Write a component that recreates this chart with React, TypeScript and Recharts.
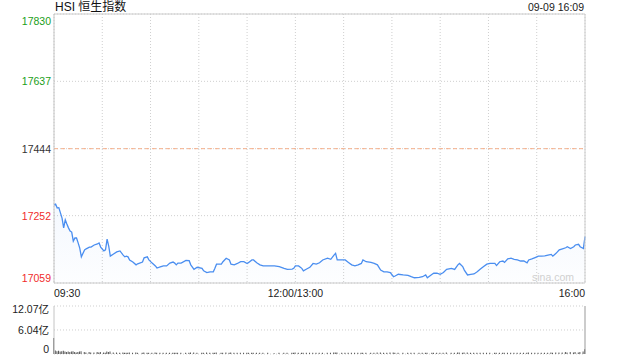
import React from "react";
import {
  ComposedChart,
  Area,
  Bar,
  XAxis,
  YAxis,
  CartesianGrid,
  ReferenceLine,
} from "recharts";

// minutes since 09:30 (lunch break removed: 150 = 12:00/13:00, 330 = 16:00)
const minutes = [
  0, 1, 2, 3, 4, 5, 6, 7, 8, 9, 10, 11, 12, 13, 14, 15, 16, 17,
  19, 20, 22, 23, 25, 27, 28, 29,
  31, 32, 33, 34, 35, 37, 39, 41,
  43, 44, 45, 46, 47, 49, 51, 52,
  55, 56, 58, 59, 61, 63, 64, 66,
  68, 70, 72, 74, 75, 76, 77, 79,
  82, 84, 85, 87, 89, 92, 93, 95,
  97, 99, 100, 101, 104, 105, 107, 109,
  110, 112, 114, 116, 118, 120, 121, 123,
  124, 126, 128, 130, 133, 137, 140, 143,
  145, 148, 149, 150, 152, 154, 155, 157,
  159, 161, 163, 165, 167, 170, 172, 174,
  175, 176, 179, 181, 183, 185, 187, 189,
  191, 192, 194, 197, 199, 201, 203, 205,
  207, 209, 211, 212, 214, 217, 220, 222,
  224, 227, 229, 231, 232, 235, 236, 238,
  240, 242, 244, 247, 249, 251, 252, 254,
  255, 257, 259, 261, 263, 265, 267, 269,
  271, 274, 275, 277, 279, 280, 282, 284,
  286, 288, 290, 292, 294, 295, 297, 299,
  301, 303, 305, 307, 309, 310, 312, 314,
  316, 318, 319, 321, 323, 324, 326, 327,
  329, 330,
];

const prices = [
  17283, 17285, 17274, 17275, 17260, 17245, 17217, 17240, 17228, 17217, 17208, 17205, 17179, 17188, 17188, 17174, 17159, 17134,
  17154, 17157, 17162, 17162, 17168, 17171, 17174, 17162,
  17151, 17154, 17185, 17165, 17136, 17142, 17148, 17151,
  17139, 17134, 17136, 17134, 17125, 17119, 17111, 17114,
  17119, 17131, 17134, 17125, 17116, 17108, 17102, 17105,
  17108, 17108, 17116, 17119, 17116, 17111, 17116, 17116,
  17124, 17123, 17111, 17098, 17104, 17101, 17094, 17089,
  17091, 17091, 17101, 17113, 17113, 17120, 17130, 17125,
  17113, 17111, 17115, 17120, 17120, 17115, 17118, 17125,
  17125, 17117, 17111, 17108, 17108, 17108, 17106, 17101,
  17098, 17099, 17101, 17108, 17108, 17101, 17094, 17099,
  17104, 17115, 17113, 17117, 17125, 17130, 17127, 17139,
  17144, 17125, 17125, 17125, 17118, 17111, 17108, 17111,
  17115, 17125, 17120, 17118, 17115, 17111, 17096, 17091,
  17091, 17089, 17077, 17079, 17084, 17082, 17081, 17077,
  17074, 17075, 17077, 17082, 17074, 17084, 17087, 17087,
  17084, 17089, 17098, 17101, 17098, 17111, 17115, 17106,
  17096, 17082, 17084, 17085, 17091, 17099, 17106, 17113,
  17115, 17115, 17109, 17120, 17122, 17118, 17128, 17130,
  17127, 17125, 17122, 17122, 17117, 17125, 17128, 17132,
  17136, 17136, 17137, 17139, 17141, 17136, 17144, 17154,
  17157, 17160, 17163, 17158, 17163, 17168, 17170, 17163,
  17158, 17192,
];

// turnover, 亿
const volumes = [
  4.0, 0.9, 0.7, 0.8, 0.6, 0.7, 0.8, 0.6, 0.5, 0.6, 0.5, 0.6, 0.7, 0.5, 0.4, 0.5, 0.6, 0.7,
  0.5, 0.4, 0.5, 0.4, 0.4, 0.5, 0.4, 0.5,
  0.4, 0.3, 0.6, 0.5, 0.6, 0.4, 0.4, 0.3,
  0.4, 0.3, 0.3, 0.3, 0.4, 0.3, 0.4, 0.3,
  0.3, 0.4, 0.3, 0.3, 0.3, 0.4, 0.3, 0.3,
  0.3, 0.3, 0.3, 0.3, 0.3, 0.3, 0.3, 0.3,
  0.3, 0.3, 0.4, 0.4, 0.3, 0.3, 0.3, 0.4,
  0.3, 0.3, 0.3, 0.4, 0.3, 0.3, 0.4, 0.3,
  0.4, 0.3, 0.3, 0.3, 0.3, 0.3, 0.3, 0.3,
  0.3, 0.3, 0.3, 0.3, 0.3, 0.2, 0.3, 0.3,
  0.3, 0.3, 0.3, 0.4, 0.3, 0.3, 0.3, 0.3,
  0.3, 0.3, 0.3, 0.3, 0.3, 0.3, 0.3, 0.4,
  0.4, 0.4, 0.3, 0.3, 0.3, 0.3, 0.3, 0.3,
  0.3, 0.3, 0.3, 0.3, 0.3, 0.4, 0.4, 0.3,
  0.3, 0.4, 0.4, 0.3, 0.3, 0.3, 0.3, 0.3,
  0.3, 0.3, 0.3, 0.3, 0.3, 0.3, 0.3, 0.3,
  0.3, 0.3, 0.4, 0.3, 0.3, 0.4, 0.4, 0.3,
  0.4, 0.4, 0.3, 0.3, 0.3, 0.3, 0.3, 0.3,
  0.3, 0.3, 0.3, 0.3, 0.3, 0.3, 0.3, 0.3,
  0.3, 0.3, 0.3, 0.3, 0.3, 0.4, 0.3, 0.3,
  0.3, 0.3, 0.3, 0.3, 0.4, 0.3, 0.4, 0.4,
  0.4, 0.5, 0.4, 0.5, 0.4, 0.5, 0.4, 0.5,
  0.6, 1.2,
];

const prevClose = 17444;
const priceTicks = [17059, 17252, 17444, 17637, 17830];
const pctLabels = ["-2.21%", "-1.10%", "0.00%", "+1.10%", "+2.21%"];
const gridMinutes = [0, 30, 60, 90, 120, 150, 180, 210, 240, 270, 300, 330];
const timeLabels: Record<number, string> = { 0: "09:30", 150: "12:00/13:00", 330: "16:00" };
const volTicks = [0, 6.04, 12.07];
const volLabels = ["0", "6.04亿", "12.07亿"];

const FONT = 'Arial, "Liberation Sans", "Noto Sans CJK SC", sans-serif';
const FS = 10.5;

const data = minutes.map((m, i) => ({ minute: m, price: prices[i], volume: volumes[i] }));

const priceColor = (v: number) => (v > prevClose ? "#1a9e1a" : v < prevClose ? "#f02c2c" : "#333");

// top label sits under the border, bottom label above it
const edgeShift = (v: number, lo: number, hi: number) => (v === hi ? 7 : v === lo ? -5 : 0);

const LeftPriceTick = (props: any) => {
  const { x, y, payload } = props;
  const v = payload.value;
  return (
    <text x={x} y={y + 4 + edgeShift(v, 17059, 17830)} textAnchor="end" fontSize={FS} fontFamily={FONT} fill={priceColor(v)}>
      {v}
    </text>
  );
};

const RightPctTick = (props: any) => {
  const { x, y, payload } = props;
  const v = payload.value;
  return (
    <text x={x} y={y + 4 + edgeShift(v, 17059, 17830)} textAnchor="start" fontSize={FS} fontFamily={FONT} fill={priceColor(v)}>
      {pctLabels[priceTicks.indexOf(v)]}
    </text>
  );
};

const TimeTick = (props: any) => {
  const { x, y, payload } = props;
  const label = timeLabels[payload.value];
  if (!label) return null;
  const anchor = payload.value === 0 ? "start" : payload.value === 330 ? "end" : "middle";
  return (
    <text x={x} y={y + 14} textAnchor={anchor} fontSize={FS} fontFamily={FONT} fill="#222">
      {label}
    </text>
  );
};

const VolTick = (props: any) => {
  const { x, y, payload } = props;
  const v = payload.value;
  const shift = v === 0 ? -5 : v === 12.07 ? 3 : 0;
  return (
    <text x={x} y={y + 4 + shift} textAnchor="end" fontSize={FS} fontFamily={FONT} fill="#222">
      {volLabels[volTicks.indexOf(v)]}
    </text>
  );
};

export default function App() {
  return (
    <div style={{ position: "absolute", left: 0, top: 0, width: 640, height: 360, background: "#fff", fontFamily: FONT }}>
      <div style={{ position: "absolute", left: 55, top: 0, fontSize: 12, lineHeight: "14px", color: "#111" }}>
        HSI 恒生指数
      </div>
      <div style={{ position: "absolute", right: 56, top: 1, fontSize: FS, lineHeight: "12px", color: "#222" }}>
        09-09 16:09
      </div>

      <div style={{ position: "absolute", left: 0, top: 0 }}>
        <ComposedChart width={640} height={300} data={data} margin={{ top: 14, right: 0, bottom: 0, left: 0 }}>
          <defs>
            <linearGradient id="priceFill" x1="0" y1="0" x2="0" y2="1">
              <stop offset="0%" stopColor="#4a8ef0" stopOpacity={0.1} />
              <stop offset="100%" stopColor="#4a8ef0" stopOpacity={0.02} />
            </linearGradient>
          </defs>
          <CartesianGrid stroke="#cfcfcf" strokeDasharray="1 2" />
          <XAxis
            dataKey="minute"
            type="number"
            domain={[0, 330]}
            ticks={gridMinutes}
            interval={0}
            height={17}
            tickSize={0}
            tickMargin={0}
            axisLine={{ stroke: "#ccc" }}
            tick={<TimeTick />}
          />
          <YAxis
            domain={[17059, 17830]}
            ticks={priceTicks}
            interval={0}
            width={54}
            tickSize={0}
            tickMargin={3}
            axisLine={{ stroke: "#c4c4c4" }}
            tick={<LeftPriceTick />}
          />
          <YAxis
            yAxisId="r"
            orientation="right"
            domain={[17059, 17830]}
            ticks={priceTicks}
            interval={0}
            width={55}
            tickSize={0}
            tickMargin={5}
            axisLine={{ stroke: "#ccc" }}
            tick={<RightPctTick />}
          />
          <ReferenceLine y={17830} stroke="#ccc" />
          <ReferenceLine y={prevClose} stroke="#f6b08a" strokeDasharray="4 3" />
          <Area
            type="linear"
            dataKey="price"
            stroke="#4a8ef0"
            strokeWidth={1.3}
            fill="url(#priceFill)"
            dot={false}
            activeDot={false}
            isAnimationActive={false}
          />
        </ComposedChart>
      </div>

      <div
        style={{ position: "absolute", left: 532, top: 271, fontSize: FS, lineHeight: "12px", color: "#d0d0d0" }}
      >
        sina.com
      </div>

      <div style={{ position: "absolute", left: 0, top: 300 }}>
        <ComposedChart width={640} height={60} data={data} margin={{ top: 6, right: 0, bottom: 6, left: 0 }}>
          <CartesianGrid stroke="#cfcfcf" strokeDasharray="1 2" vertical={false} />
          <XAxis dataKey="minute" type="number" domain={[0, 330]} hide />
          <YAxis
            domain={[0, 12.07]}
            ticks={volTicks}
            interval={0}
            width={54}
            tickSize={0}
            tickMargin={5}
            axisLine={{ stroke: "#c4c4c4" }}
            tick={<VolTick />}
          />
          <YAxis yAxisId="r" orientation="right" width={55} tick={false} tickLine={false} axisLine={{ stroke: "#999" }} />
          <Bar dataKey="volume" fill="#555" barSize={1} isAnimationActive={false} />
        </ComposedChart>
      </div>
    </div>
  );
}
